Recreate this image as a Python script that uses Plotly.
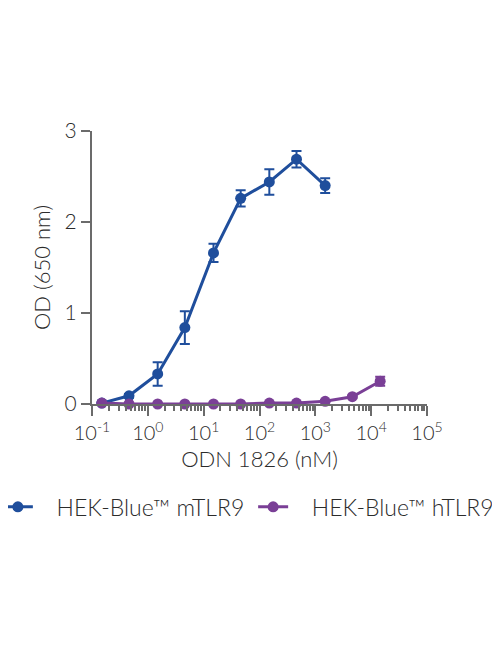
import plotly.graph_objects as go

# ODN 1826 concentration (nM)
conc_m = [0.15, 0.46, 1.5, 4.6, 15, 46, 150, 460, 1500]
od_m = [0.01, 0.09, 0.33, 0.84, 1.66, 2.26, 2.44, 2.69, 2.40]
err_m = [0.0, 0.02, 0.13, 0.18, 0.10, 0.09, 0.14, 0.09, 0.08]

conc_h = [0.15, 0.46, 1.5, 4.6, 15, 46, 150, 460, 1500, 4600, 14500]
od_h = [0.01, 0.0, 0.0, 0.0, 0.0, 0.0, 0.01, 0.01, 0.03, 0.08, 0.25]
err_h = [0.0, 0.0, 0.0, 0.0, 0.0, 0.0, 0.0, 0.0, 0.01, 0.01, 0.05]

x_exp = [-1, 0, 1, 2, 3, 4, 5]
y_ticks = [0, 1, 2, 3]

blue = "#1f4e9c"
purple = "#7a3f96"
grey = "#6b6b6b"
txt = "#2b2b2b"
font = "Lato, 'Open Sans', sans-serif"
gap = "\u00a0\u00a0\u00a0"

fig = go.Figure()

for name, x, y, e, c, leg in [
    ("HEK-Blue™ mTLR9", conc_m, od_m, err_m, blue, "legend"),
    ("HEK-Blue™ hTLR9", conc_h, od_h, err_h, purple, "legend2"),
]:
    fig.add_trace(go.Scatter(
        x=x, y=y, name=gap + name, mode="lines+markers",
        line=dict(color=c, width=3),
        marker=dict(color=c, size=11),
        error_y=dict(type="data", array=e, color=c, thickness=2, width=5),
        cliponaxis=False, legend=leg,
    ))

minor_vals = [m * 10.0 ** d for d in range(-1, 5) for m in range(2, 10)]

fig.update_xaxes(
    type="log", range=[-1, 5],
    tickvals=[10.0 ** d for d in x_exp],
    ticktext=["10<sup>%d</sup>" % d for d in x_exp],
    ticks="outside", ticklen=10, tickwidth=2, tickcolor=grey,
    showline=True, linewidth=2, linecolor=grey,
    showgrid=False, zeroline=False,
    minor=dict(tickmode="array", tickvals=minor_vals, ticks="outside",
               ticklen=5, tickwidth=1.5, tickcolor=grey, showgrid=False),
    tickfont=dict(size=20, color=txt, family=font, weight=300),
    title=dict(text="ODN 1826 (nM)", font=dict(size=22, color=txt, family=font, weight=300), standoff=9),
)
fig.update_yaxes(
    range=[0, 3], tickvals=y_ticks,
    ticks="outside", ticklen=9, tickwidth=2, tickcolor=grey,
    showline=True, linewidth=2, linecolor=grey,
    showgrid=False, zeroline=False,
    tickfont=dict(size=21, color=txt, family=font, weight=300),
    title=dict(text="OD (650 nm)", font=dict(size=22, color=txt, family=font, weight=300), standoff=8),
)

leg_font = dict(size=23, color=txt, family=font, weight=300)
fig.update_layout(
    width=500, height=650,
    margin=dict(l=84, r=81, t=123, b=254, autoexpand=False),
    plot_bgcolor="white", paper_bgcolor="white",
    font=dict(family=font, color=txt),
    showlegend=True,
    legend=dict(x=-0.281, xanchor="left", y=-0.377, yanchor="middle",
                font=leg_font, itemwidth=30, bgcolor="rgba(0,0,0,0)"),
    legend2=dict(x=0.481, xanchor="left", y=-0.377, yanchor="middle",
                 font=leg_font, itemwidth=30, bgcolor="rgba(0,0,0,0)"),
)

fig.write_html("out.html")
